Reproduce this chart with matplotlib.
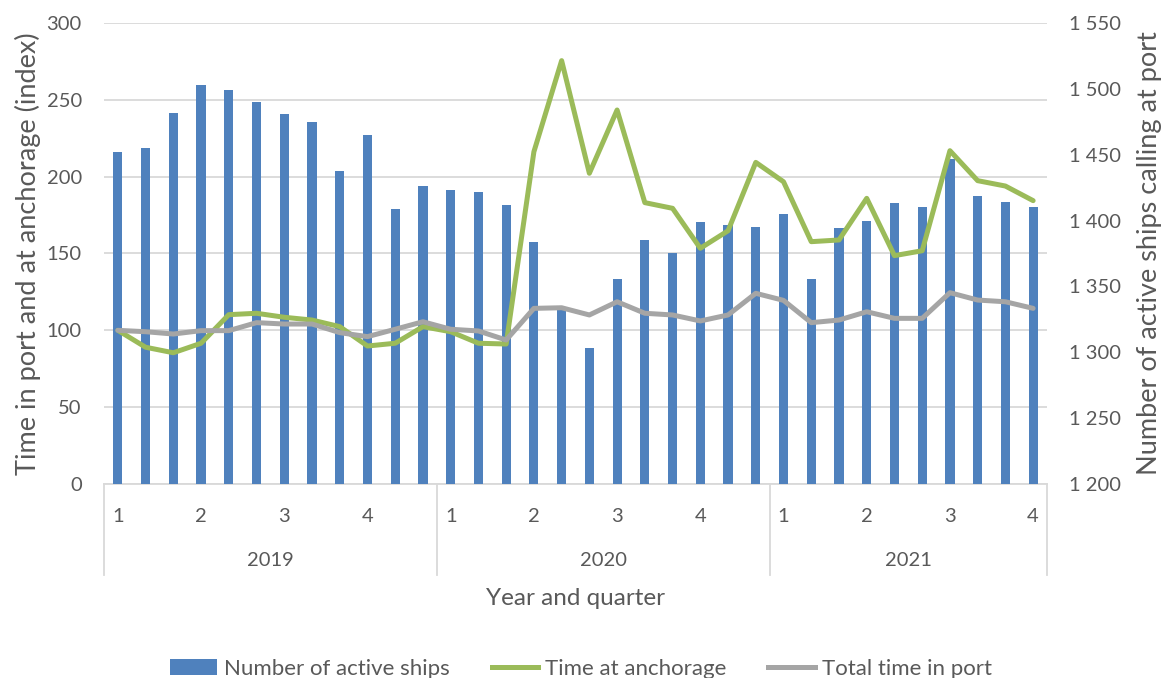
import matplotlib.pyplot as plt
from matplotlib.lines import Line2D
from matplotlib.patches import Patch
from matplotlib.ticker import FuncFormatter

# data: monthly values Jan 2019 - Oct 2021, quarter labels every third month
years = ["2019", "2020", "2021"]
months_per_year = [12, 12, 10]
quarter_labels = ["1", "2", "3", "4"]

active_ships = [1452, 1455, 1482, 1503, 1499, 1490, 1481, 1475, 1438, 1465, 1409, 1426,
                1423, 1422, 1412, 1384, 1334, 1303, 1356, 1385, 1375, 1399, 1397, 1395,
                1405, 1356, 1394, 1400, 1413, 1410, 1447, 1419, 1414, 1410]
time_at_anchorage = [100, 89, 85.4, 91.6, 110.2, 111.1, 108.5, 106.7, 102.4, 89.8, 91.6, 102.4,
                     99.1, 91.6, 91.1, 216.2, 275.5, 202.2, 243.4, 183.1, 179.4, 153.4, 164.8, 209.3,
                     196.7, 157.7, 158.8, 185.9, 148.6, 151.8, 216.9, 197.4, 193.9, 184.4]
time_in_port = [100, 99.1, 97.6, 99.8, 99.8, 105, 104.1, 104.1, 98.5, 95.9, 100.7, 105.6,
                100.7, 99.6, 93.7, 114.3, 114.7, 110, 118.6, 111.1, 110, 106.1, 110, 124.1,
                119.5, 105, 106.7, 112.1, 107.8, 107.8, 124.5, 119.7, 118.6, 114.3]

BLUE = "#4F81BD"
GREEN = "#9BBB59"
GREY = "#A5A5A5"
TEXT = "#595959"
GRID = "#D9D9D9"
FS = 14.5       # tick labels
FS_TITLE = 19.5  # axis titles
LW = 3.6

plt.rcParams["font.family"] = ["Lato", "DejaVu Sans"]
plt.rcParams["text.color"] = TEXT

fig = plt.figure(figsize=(11.62, 6.78), dpi=100)
ax = fig.add_axes([104 / 1162, 1 - 484 / 678, (1047 - 104) / 1162, 461 / 678])
ax_bar = ax.twinx()
ax_line = ax.twinx()

n = len(active_ships)
x = list(range(n))

# left axis: grid + ticks
ax.set_xlim(-0.5, n - 0.5)
ax.set_ylim(0, 300)
ax.set_yticks(range(0, 301, 50))
ax.grid(axis="y", color=GRID, linewidth=1.3)
ax.set_axisbelow(True)
ax.tick_params(axis="y", length=0, pad=16, labelsize=FS, labelcolor=TEXT)
ax.set_ylabel("Time in port and at anchorage (index)", fontsize=FS_TITLE, color=TEXT, labelpad=4)

# quarter ticks, every third month
tick_pos, tick_lab = [], []
start = 0
for cnt in months_per_year:
    for k in range(0, cnt, 3):
        tick_pos.append(start + k)
        tick_lab.append(quarter_labels[k // 3])
    start += cnt
ax.set_xticks(tick_pos)
ax.set_xticklabels(tick_lab)
ax.tick_params(axis="x", length=0, pad=17, labelsize=FS, labelcolor=TEXT)

for a in (ax, ax_bar, ax_line):
    for s in a.spines.values():
        s.set_visible(False)
ax.spines["bottom"].set_visible(True)
ax.spines["bottom"].set_color(GRID)
ax.spines["bottom"].set_linewidth(1.3)

# year group separators and labels
trans = ax.get_xaxis_transform()
start = 0
edges = [-0.5]
for yr, cnt in zip(years, months_per_year):
    ax.text(start + (cnt - 1) / 2, -0.167, yr, transform=trans, ha="center", va="center",
            fontsize=FS, color=TEXT)
    start += cnt
    edges.append(start - 0.5)
for e in edges:
    ax.plot([e, e], [0, -0.198], transform=trans, color=GRID, linewidth=1.3, clip_on=False)
ax.text(0.5, -0.248, "Year and quarter", transform=ax.transAxes, ha="center", va="center",
        fontsize=17.5, color=TEXT)

# bars on right axis
ax_bar.bar(x, active_ships, width=0.33, color=BLUE, zorder=2)
ax_bar.set_ylim(1200, 1550)
ax_bar.set_yticks(range(1200, 1551, 50))
ax_bar.yaxis.set_major_formatter(FuncFormatter(lambda v, p: f"{int(v):,}".replace(",", " ")))
ax_bar.tick_params(axis="y", length=0, pad=16, labelsize=FS, labelcolor=TEXT)
ax_bar.set_ylabel("Number of active ships calling at port", fontsize=FS_TITLE, color=TEXT,
                  labelpad=11)

# lines on left scale, drawn above bars
ax_line.set_ylim(0, 300)
ax_line.set_yticks([])
ax_line.plot(x, time_at_anchorage, color=GREEN, linewidth=LW, solid_joinstyle="round",
             solid_capstyle="round")
ax_line.plot(x, time_in_port, color=GREY, linewidth=LW, solid_joinstyle="round",
             solid_capstyle="round")

handles = [
    Patch(facecolor=BLUE, label="Number of active ships"),
    Line2D([], [], color=GREEN, linewidth=LW, label="Time at anchorage"),
    Line2D([], [], color=GREY, linewidth=LW, label="Total time in port"),
]
fig.legend(handles=handles, loc="center", bbox_to_anchor=(0.5, 9 / 678), ncol=3,
           frameon=False, fontsize=16, handlelength=2.1, handleheight=0.7,
           handletextpad=0.3, columnspacing=1.9)

fig.savefig("out.png", dpi=100)
